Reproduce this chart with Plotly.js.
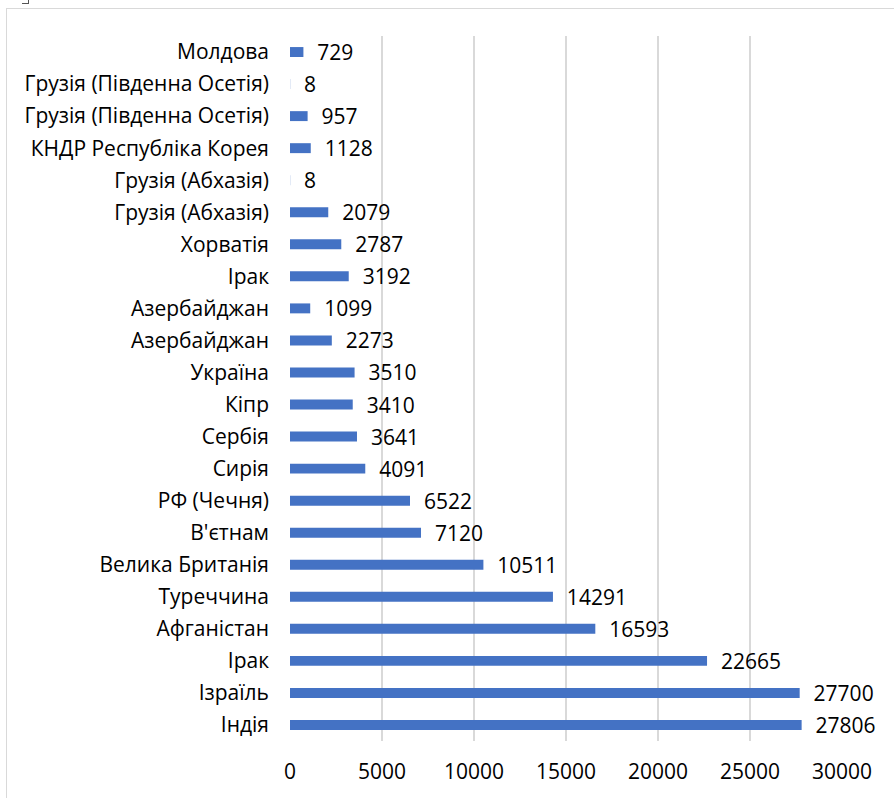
<!DOCTYPE html>
<html><head><meta charset="utf-8">
<script src="https://cdn.plot.ly/plotly-3.0.1.min.js"></script>
<style>
html,body{margin:0;padding:0;background:#fff;}
#wrap{position:relative;width:894px;height:798px;overflow:hidden;}
#chart{position:absolute;left:0;top:0;width:894px;height:798px;}
#frame{position:absolute;left:6px;top:8px;width:1000px;height:1000px;border:1px solid #d9d9d9;pointer-events:none;}
#mark{position:absolute;left:22px;top:-4px;width:6px;height:7px;border:1px solid #555;border-left:none;border-top:none;}
</style></head>
<body><div id="wrap"><div id="chart"></div><div id="frame"></div><div id="mark"></div></div>
<script>
// Categories listed from bottom to top
var categories = ["Індія","Ізраїль","Ірак","Афганістан","Туреччина","Велика Британія","В'єтнам","РФ (Чечня)","Сирія","Сербія","Кіпр","Україна","Азербайджан","Азербайджан","Ірак","Хорватія","Грузія (Абхазія)","Грузія (Абхазія)","КНДР Республіка Корея","Грузія (Південна Осетія)","Грузія (Південна Осетія)","Молдова"];
var values = [27806,27700,22665,16593,14291,10511,7120,6522,4091,3641,3410,3510,2273,1099,3192,2787,2079,8,1128,957,8,729];
var xTicks = [0,5000,10000,15000,20000,25000,30000];

var positions = categories.map(function(c,i){return i;});
var font = "Open Sans, Noto Sans, sans-serif";
Plotly.newPlot('chart',[{
  type:'bar', orientation:'h',
  x: values, y: positions,
  marker:{color:'#4472c4'},
  width:0.31,
  text: values.map(function(v){return '  '+v;}),
  textposition:'outside',
  constraintext:'none',
  textfont:{family:font,size:21,color:'#000'},
  cliponaxis:false,
  hoverinfo:'none'
}],{
  width:894,height:798,
  margin:{l:290,r:52,t:36,b:57},
  paper_bgcolor:'rgba(0,0,0,0)',plot_bgcolor:'rgba(0,0,0,0)',
  showlegend:false,
  xaxis:{range:[0,30000],tickvals:xTicks,ticktext:xTicks.map(String),
    showgrid:true,gridcolor:'#d9d9d9',gridwidth:1.6,zeroline:false,showline:false,
    ticks:'',tickfont:{family:font,size:21,color:'#000'},ticklabelstandoff:16},
  yaxis:{range:[-0.5,categories.length-0.5],tickvals:positions,ticktext:categories,
    showgrid:false,zeroline:false,showline:false,ticks:'',
    tickfont:{family:font,size:21,color:'#000'},ticklabelstandoff:20}
},{displayModeBar:false,staticPlot:true});
</script>
</body></html>
